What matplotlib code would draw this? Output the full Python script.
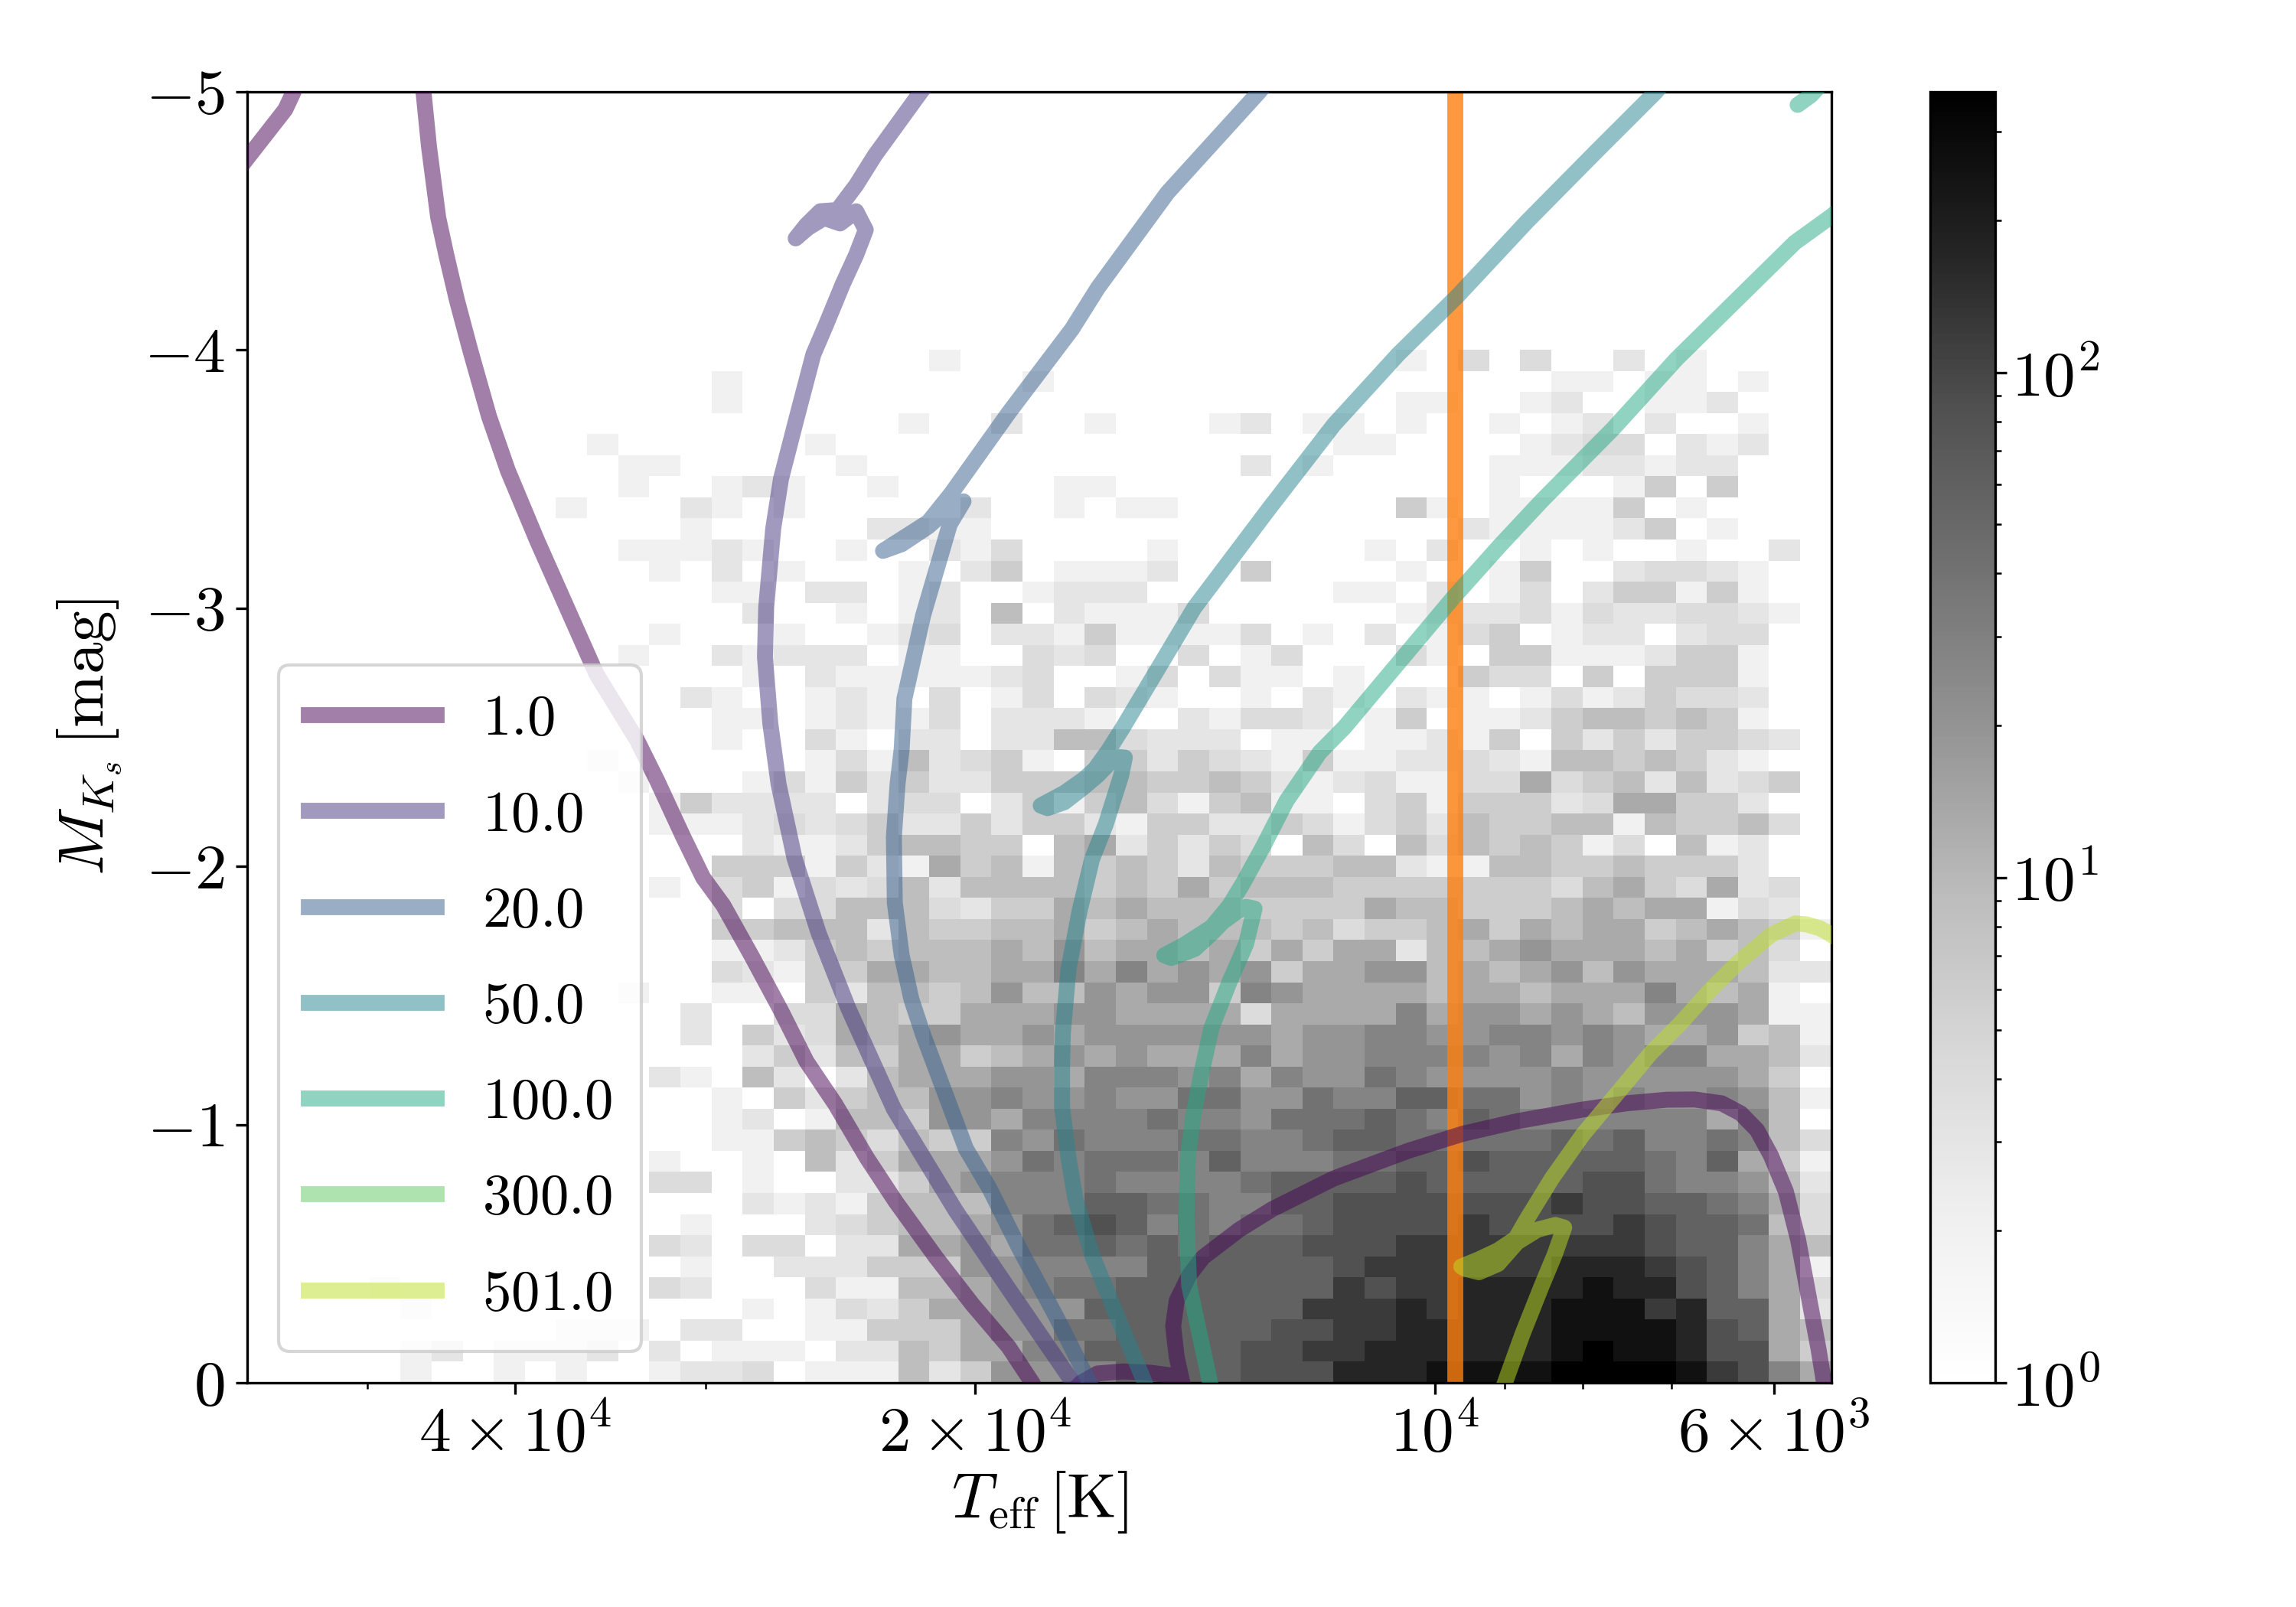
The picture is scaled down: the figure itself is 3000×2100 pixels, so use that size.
import numpy as np
import matplotlib
matplotlib.use('Agg')
import matplotlib.pyplot as plt
from matplotlib.colors import LogNorm
from matplotlib.ticker import FixedLocator, NullFormatter

plt.rcParams['font.family'] = 'serif'
plt.rcParams['font.serif'] = ['cmr10']
plt.rcParams['mathtext.fontset'] = 'cm'
plt.rcParams['axes.formatter.use_mathtext'] = True
plt.rcParams['font.size'] = 20

# star counts per cell, one letter per cell, bottom row first
count_of = {'.': 0, 'a': 2, 'b': 3, 'c': 4, 'd': 6, 'e': 9, 'f': 13, 'g': 19, 'h': 28,
            'i': 40, 'j': 58, 'k': 83, 'l': 120, 'm': 172, 'n': 250, 'o': 360}
hist_rows = [
    ".....a..a.a..abbc.aaaebd ggghjjjjkkkmm mnnnnoooonlkhf",
    ".....ab.aaab.b.aaa.bbedf fhhjjjjjkkllm mmmmmnonnmkkfd",
    "..........aaa.bb..aadddf ggiijjjjjkkll mmmmmnnnnmkjfe",
    ".....a..........a.acbdff gggjjjjjjjlll mlmmmnnnlmjjfb",
    "....a........cb...caaeef ghiijjjjjjjlk llmmmmnmmkjhfc",
    "..............a..bbbdddg ghhhhjjjjjjkl lllllmmmlkjhfa",
    ".............cb.cc.bbffg fiijijijjjkkk llllllllkjjhfe",
    "..............a...bcdeef gijkjhihiijkk kklkkkklkjjiec",
    "................babadeee hhhjjiihhjjkk kkkkklkkjjihfc",
    ".............cc.a..bbdfg hhhihhhhijjjj kjjjjjkkihhgeb",
    ".............a..a.ebdfff gihiiihjhhhii jjkjjjjjihjfda",
    "...............aadedcedd hgihhhiihhijj iiiiijijhhihec",
    "...............ab.aeedgg fhhhhihhgiiij ihjihhhhhhfhe.",
    "...............a.dbdeegg hgghggiiggihh jjiighghgghgea",
    ".............ba.eb.befff ggfhhhghfhggi hgggghgggggfd.",
    "................bdbedffd efgfgfffhfggh hhhghfhghhffeb",
    "..............b.dbcfefgf fgfggggggfggh hgghhghgffgdea",
    "..............b..ccfeddf ffggffffcffff hfggfgfegggfaa",
    "............a..aa.dbeede geegfggdhgfff feffefffhfefa.",
    "...............cbaddffee ffhfhfgfgdffg gefefgegfffebb",
    "...............aabdedeee fegeffefdfdff beefgfffefdec.",
    "...............ddeeebedd eefdefeeedecd defdfeffdefeda",
    "...............c.cceeecb ddfefeeeddddf eedddefeffacb.",
    ".............a.cdacbcebe eeededfdeeedd dddddcefdcfbc.",
    "...............dddadbafd eaededbedddee baaeeddedddb..",
    "................baabdeed d.efbdbdc.ec. ecededac.eab..",
    ".............aaabcbcdbbd bddbaddbbdcac dbeddeeaeddec.",
    ".............adbbbb.bcc. bdadecadeaa.c dadddbcffddb..",
    "............a...acadbdbb dddeeddedbabc aaccfcdebebcd.",
    "...........a......acaebc da.ddbdcbadaa bbcbaeededba..",
    "...............a..ca.bb. bbeecbbb.aa.a abad.dbdbddcb.",
    "...............aa.abaac. bbba..baccb.a d.aabdeededa..",
    "..............ba..aba.c. ac.cba..a.ba. baa.acabdccb..",
    "................a.baaaaa bc..ac.caa.a. ..dcc.d.ddda..",
    "............a..babbb.aa. .cbc..c.ac... ca.ddaaabdda..",
    ".............a...a..abc. bbadaaaac.a.b .acd.abb.bcc..",
    "................b..a.ab. e.baaac...... abbbcacbbccba.",
    "...............aa.bb.ab. .abbb......aa .b.ac.bddada..",
    ".............a.b.a...a.b d.aaab..d.... a..ad..bccba..",
    "............aaaba..a..ba c....a......a .b..a.a..a..b.",
    "..............a.....bbaa ............. ..baaaabd.a...",
    "..........a...ba.a.....b ..a.aa....... da.aaaad.a....",
    "............a..aba..a... ..aa......... ...a...ad.d...",
    "............aa.....a.... ........b.a.. ...aaabbabb...",
    "...........a......a..... ...........aa ....abcc.bab..",
    ".....................a.. b..a...ab.aa. a..a.ab.b..a..",
    "...............a........ ............. aa..ab..aab...",
    "...............a........ .a........... .....aa.aa.a..",
    "......................a. ............. a.c.c..b.a....",
]

# evolutionary tracks: log10(Teff), M_Ks
track_labels = ['1.0', '10.0', '20.0', '50.0', '100.0', '300.0', '501.0']

logt_1 = [3.7425, 3.7488, 3.7550, 3.7622, 3.7702, 3.7800, 3.7890, 3.7997, 3.8122, 3.8300, 3.8480, 3.8747,
          3.9032, 3.9460, 3.9818, 4.0175, 4.0662, 4.1062, 4.1280, 4.1517, 4.1608, 4.1690, 4.1713, 4.1690,
          4.1653, 4.1620, 4.1671, 4.1862, 4.2044, 4.2207, 4.2316, 4.2407, 4.2525, 4.2635, 4.2790, 4.3025,
          4.3266, 4.3530, 4.3718, 4.3925, 4.4113, 4.4282, 4.4470, 4.4658, 4.4790, 4.4922, 4.5091, 4.5223,
          4.5489, 4.5682, 4.5875, 4.6068, 4.6191, 4.6314, 4.6401, 4.6471, 4.6524, 4.6584, 4.6620, 4.6645,
          4.7425, 4.7472, 4.7525, 4.7760, 4.7875]
mag_1 = [0.098, -0.130, -0.326, -0.554, -0.741, -0.880, -0.978, -1.043, -1.082, -1.097, -1.096, -1.082,
         -1.058, -1.013, -0.964, -0.898, -0.791, -0.673, -0.593, -0.486, -0.416, -0.317, -0.219, -0.101,
         0.0, 0.053, -0.024, -0.039, -0.044, -0.036, 0.0, 0.053, 0.127, 0.0, -0.139, -0.302,
         -0.486, -0.702, -0.871, -1.079, -1.244, -1.443, -1.650, -1.849, -1.956, -2.116, -2.332, -2.489,
         -2.745, -3.002, -3.259, -3.532, -3.741, -3.998, -4.191, -4.367, -4.512, -4.785, -4.997, -5.087,
         -5.087, -4.997, -4.930, -4.752, -4.664]

logt_10 = [4.2275, 4.2375, 4.2788, 4.3138, 4.3541, 4.3840, 4.4033, 4.4191, 4.4296, 4.4350, 4.4385, 4.4377,
           4.4331, 4.4280, 4.4175, 4.4068, 4.3987, 4.3875, 4.3788, 4.3725, 4.3788, 4.3893, 4.3998, 4.4103,
           4.4184, 4.4114, 4.4023, 4.3910, 4.3788, 4.3665, 4.3366, 4.3250]
mag_10 = [0.068, -0.006, -0.362, -0.668, -1.060, -1.451, -1.740, -2.030, -2.318, -2.553, -2.810, -3.002,
          -3.307, -3.500, -3.741, -3.982, -4.094, -4.255, -4.367, -4.464, -4.536, -4.489, -4.510, -4.472,
          -4.431, -4.483, -4.536, -4.541, -4.637, -4.753, -4.997, -5.087]

logt_20 = [4.2175, 4.2261, 4.2480, 4.2716, 4.2916, 4.3070, 4.3350, 4.3426, 4.3490, 4.3535, 4.3541, 4.3517,
           4.3490, 4.3472, 4.3350, 4.3175, 4.3085, 4.3210, 4.3315, 4.3490, 4.3612, 4.3455, 4.3315, 4.3166,
           4.2788, 4.2375, 4.2205, 4.1750, 4.1152, 4.1025]
mag_20 = [0.098, 0.0, -0.258, -0.516, -0.753, -0.907, -1.348, -1.484, -1.655, -1.859, -2.114, -2.318,
          -2.454, -2.649, -2.970, -3.324, -3.413, -3.372, -3.316, -3.247, -3.221, -3.280, -3.333, -3.443,
          -3.757, -4.080, -4.240, -4.608, -4.997, -5.087]

logt_50 = [4.1875, 4.1898, 4.2080, 4.2244, 4.2353, 4.2398, 4.2440, 4.2440, 4.2435, 4.2398, 4.2325, 4.2244,
           4.2153, 4.2053, 4.2029, 4.2071, 4.2135, 4.2207, 4.2307, 4.2425, 4.2535, 4.2580, 4.2425, 4.2298,
           4.2225, 4.2135, 4.2040, 4.1573, 4.1081, 4.0660, 4.0240, 3.9853, 3.9397, 3.8941, 3.8555, 3.8425]
mag_50 = [0.053, 0.0, -0.258, -0.495, -0.712, -0.871, -1.068, -1.225, -1.354, -1.601, -1.828, -2.027,
          -2.164, -2.352, -2.421, -2.423, -2.396, -2.352, -2.302, -2.248, -2.225, -2.235, -2.284, -2.337,
          -2.376, -2.450, -2.539, -3.002, -3.388, -3.710, -3.982, -4.207, -4.496, -4.769, -4.997, -5.087]

logt_100 = [4.1450, 4.1471, 4.1544, 4.1608, 4.1625, 4.1617, 4.1580, 4.1525, 4.1462, 4.1344, 4.1235, 4.1180,
            4.1235, 4.1298, 4.1389, 4.1462, 4.1571, 4.1643, 4.1725, 4.1771, 4.1643, 4.1462, 4.1344, 4.1253,
            4.1125, 4.0971, 4.0753, 4.0590, 3.9888, 3.9572, 3.9292, 3.8835, 3.8415, 3.8028, 3.7643, 3.7397,
            3.7225, np.nan, 3.7625, 3.7538, 3.7425]
mag_100 = [0.053, 0.0, -0.199, -0.376, -0.634, -0.871, -1.038, -1.206, -1.374, -1.552, -1.700, -1.836,
           -1.843, -1.823, -1.784, -1.739, -1.680, -1.663, -1.645, -1.655, -1.695, -1.764, -1.848, -1.937,
           -2.075, -2.253, -2.441, -2.539, -3.034, -3.243, -3.420, -3.693, -3.966, -4.191, -4.415, -4.520,
           -4.613, np.nan, -4.948, -4.985, -5.058]

# the 300 track never enters this window
logt_300 = []
mag_300 = []

logt_501 = [3.9575, 3.9541, 3.9425, 3.9300, 3.9216, 3.9153, 3.9211, 3.9327, 3.9461, 3.9586, 3.9711, 3.9800,
            3.9827, 3.9711, 3.9586, 3.9470, 3.9398, 3.9234, 3.9032, 3.8818, 3.8586, 3.8390, 3.8193, 3.8015,
            3.7800, 3.7640, 3.7568, 3.7480, 3.7415, 3.7320]
mag_501 = [0.053, 0.0, -0.190, -0.376, -0.495, -0.601, -0.611, -0.593, -0.544, -0.460, -0.428, -0.441,
           -0.450, -0.478, -0.513, -0.559, -0.633, -0.791, -0.960, -1.112, -1.277, -1.393, -1.523, -1.627,
           -1.734, -1.779, -1.775, -1.760, -1.739, -1.701]

tracks_logt = [logt_1, logt_10, logt_20, logt_50, logt_100, logt_300, logt_501]
tracks_mag = [mag_1, mag_10, mag_20, mag_50, mag_100, mag_300, mag_501]

teff_line = 9700

x_ticks = [40000, 20000, 10000, 6000]
x_tick_labels = [r'$4\times10^{4}$', r'$2\times10^{4}$', r'$10^{4}$', r'$6\times10^{3}$']
x_minor = [60000, 50000, 30000, 9000, 8000, 7000]
y_ticks = [-5, -4, -3, -2, -1, 0]

rows = [r.replace(' ', '') for r in hist_rows]
bad = [i for i, r in enumerate(rows) if len(r) != 51]
assert not bad, bad
counts = np.array([[count_of[c] for c in r] for r in rows], dtype=float)
t_edges = 10 ** np.linspace(4.7789, 3.7405, 52)
m_edges = np.linspace(0, -4, 50)

fig = plt.figure(figsize=(10, 7), dpi=300)
ax = fig.add_axes([323 / 3000, 1 - 1807 / 2100, 2070 / 3000, 1687.5 / 2100])
cax = fig.add_axes([2522 / 3000, 1 - 1807 / 2100, 85 / 3000, 1687.5 / 2100])

mesh = ax.pcolormesh(t_edges, m_edges, np.ma.masked_equal(counts, 0), cmap='Greys',
                     norm=LogNorm(vmin=1, vmax=360), zorder=1)
ax.axvline(teff_line, color='tab:orange', alpha=0.8, lw=5, zorder=2)

colors = plt.cm.viridis(np.linspace(0, 0.9, 7))
for lt, mg, lab, col in zip(tracks_logt, tracks_mag, track_labels, colors):
    ax.plot(10 ** np.array(lt, dtype=float), mg, color=col, alpha=0.5, lw=5, label='$%s$' % lab,
            solid_capstyle='round', solid_joinstyle='round', zorder=3)

ax.set_xscale('log')
ax.set_xlim(5.99e4, 5500)
ax.set_ylim(0, -5)
ax.xaxis.set_major_locator(FixedLocator(x_ticks))
ax.set_xticklabels(x_tick_labels)
ax.xaxis.set_minor_locator(FixedLocator(x_minor))
ax.xaxis.set_minor_formatter(NullFormatter())
ax.set_yticks(y_ticks)
ax.set_yticklabels(['$%d$' % v for v in y_ticks])
ax.set_xlabel(r'$T_{\rm eff}\,[{\rm K}]$', labelpad=1.5)
ax.set_ylabel(r'$M_{K_s}\,[{\rm mag}]$', labelpad=6.3)

leg = ax.legend(loc='lower left', fontsize=18, labelspacing=0.77, handlelength=2.22, borderpad=0.52,
                borderaxespad=0.55)
for h in leg.get_lines():
    h.set_solid_capstyle('projecting')

cb = fig.colorbar(mesh, cax=cax)
cax.tick_params(which='major', pad=1.5)

fig.savefig('out.png', dpi=300)
